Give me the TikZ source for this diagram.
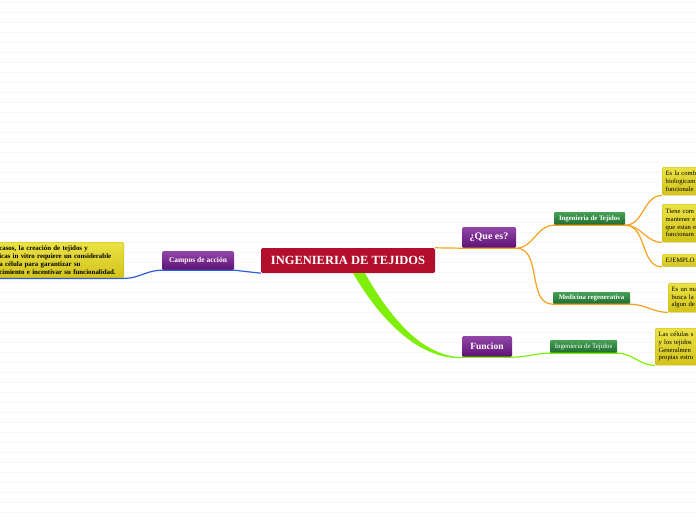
\documentclass[tikz,border=0pt]{standalone}
\usepackage{fontspec}
\setmainfont{Liberation Serif}
\usetikzlibrary{calc}
\definecolor{crimson}{HTML}{B30E2C}
\definecolor{plumtop}{HTML}{9347A8}
\definecolor{plumbot}{HTML}{5C1274}
\definecolor{leaftop}{HTML}{45A255}
\definecolor{leafbot}{HTML}{1E6B30}
\definecolor{notetop}{HTML}{EBE244}
\definecolor{notebot}{HTML}{D3C31B}
\definecolor{noteedge}{HTML}{C8B622}
\definecolor{branchorange}{HTML}{F6A21E}
\definecolor{branchblue}{HTML}{2C5EDC}
\definecolor{branchgreen}{HTML}{7FEF0A}
\definecolor{ruleline}{HTML}{F7F7F7}

\begin{document}
\begin{tikzpicture}[x=1pt,y=-1pt,
  corebox/.style={fill=crimson,rounded corners=1.5pt,text=white,inner sep=0pt,
    font=\fontsize{12.5}{14}\selectfont\bfseries,minimum width=174pt,minimum height=25pt},
  topicbox/.style={top color=plumtop,bottom color=plumbot,rounded corners=1.5pt,text=white,
    inner sep=0pt,font=\bfseries},
  subbox/.style={top color=leaftop,bottom color=leafbot,rounded corners=1pt,text=white,
    inner sep=0pt,font=\fontsize{6.8}{8}\selectfont\bfseries},
  notebox/.style={top color=notetop,bottom color=notebot,draw=noteedge,line width=0.4pt,
    rounded corners=1.5pt,align=left,inner xsep=3.5pt,inner ysep=1pt,
    font=\fontsize{6.6}{7.7}\selectfont},
  orangebranch/.style={draw=branchorange,line width=1.2pt},
  bluebranch/.style={draw=branchblue,line width=1.2pt},
  greenbranch/.style={draw=branchgreen,line width=1.2pt}]
\useasboundingbox (0,0) rectangle (696,520);
\clip (0,0) rectangle (696,520);
\fill[white] (0,0) rectangle (696,520);
\foreach \y in {2.7,12.7,...,520} \draw[ruleline,line width=0.6pt] (0,\y) -- (696,\y);

% main topic and first level
\node[corebox] (core) at (348,260.5) {INGENIERIA DE TEJIDOS};
\node[topicbox,font=\fontsize{7.5}{9}\selectfont\bfseries,minimum width=72pt,minimum height=19pt] (campos) at (198,260.5) {Campos de acción};
\node[topicbox,font=\fontsize{10}{12}\selectfont\bfseries,minimum width=54pt,minimum height=21pt] (que) at (489,237.5) {¿Que es?};
\node[topicbox,font=\fontsize{9.5}{11}\selectfont\bfseries,minimum width=50pt,minimum height=21pt] (funcion) at (487,346.5) {Funcion};

% second level
\node[subbox,minimum width=71pt,minimum height=13pt] (ing1) at (589.5,218.5) {Ingenieria de Tejidos};
\node[subbox,minimum width=77pt,minimum height=12pt] (medicina) at (591.5,298) {Medicina regenerativa};
\node[subbox,font=\fontsize{6.8}{8}\selectfont,minimum width=67pt,minimum height=13pt] (ing2) at (583.5,346.5) {Ingenieria de Tejidos};

% notes
\node[notebox,font=\fontsize{6.9}{7.8}\selectfont\bfseries,anchor=north east,text width=121pt,minimum height=36pt] (campnote) at (124,242)
  {casos, la creación de tejidos y\\icas in vitro requiere un considerable\\a célula para garantizar su\\cimiento e incentivar su funcionalidad.};
\node[notebox,anchor=north west,text width=60pt,minimum height=28pt] (n1) at (662,167) {Es la comb\\biologicam\\funcionale};
\node[notebox,anchor=north west,text width=60pt,minimum height=38pt] (n2) at (662,204) {Tiene com\\mantener e\\que estan e\\funcionam};
\node[notebox,anchor=north west,text width=60pt,minimum height=12.5pt] (n3) at (662,254) {EJEMPLO};
\node[notebox,anchor=north west,text width=60pt,minimum height=29pt] (n4) at (668,283) {Es un ma\\busca la\\algun de};
\node[notebox,anchor=north west,text width=60pt,minimum height=37pt] (n5) at (655,328) {Las células s\\y los tejidos\\Generalmen\\propias estru};

% branches
\draw[bluebranch] (core.south west) -- (campos.south east) -- (campos.south west) to[out=180,in=0] (campnote.south east) -- (campnote.south west);
\draw[orangebranch] (core.north east) -- (que.south west) -- (que.south east) to[out=0,in=180] (ing1.south west) -- (ing1.south east);
\draw[orangebranch] (que.south east) to[out=0,in=180] (medicina.south west) -- (medicina.south east) to[out=0,in=180] (n4.south west);
\draw[orangebranch] (ing1.south east) to[out=0,in=180] (n1.south west);
\draw[orangebranch] (ing1.south east) to[out=0,in=180] (n2.south west);
\draw[orangebranch] (ing1.south east) to[out=0,in=180] (n3.south west);
\fill[branchgreen] ($(core.south)+(5,0)$) .. controls +(27,46) and +(-44,1) .. ($(funcion.south west)+(0,1)$)
  -- (funcion.south west) .. controls +(-39,-1) and +(26,46) .. ($(core.south)+(17,0)$) -- cycle;
\draw[greenbranch] (funcion.south west) -- (funcion.south east) to[out=0,in=180] (ing2.south west) -- (ing2.south east) to[out=0,in=180] (n5.south west);
\end{tikzpicture}
\end{document}
